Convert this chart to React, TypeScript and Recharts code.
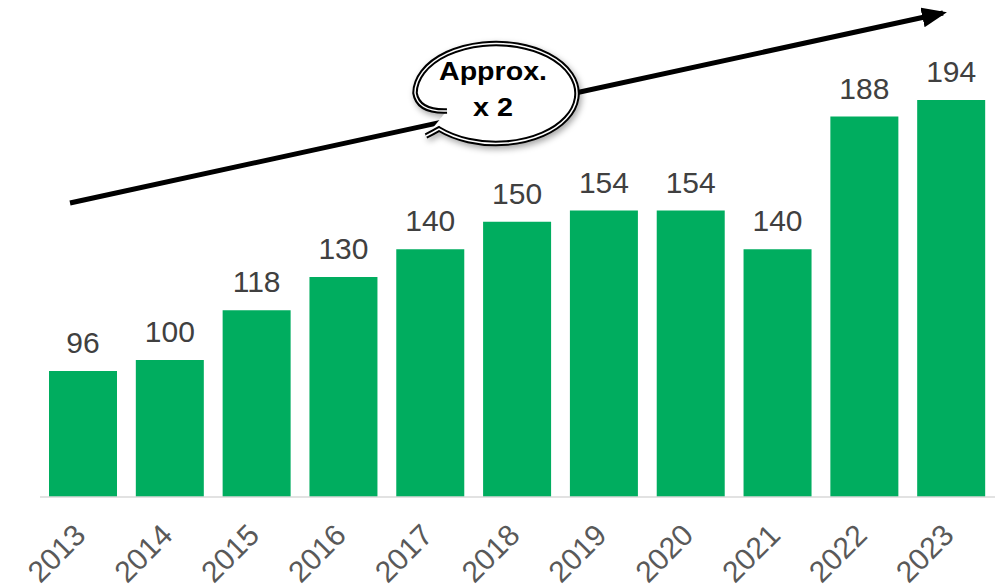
import React from 'react';
import { BarChart, Bar, XAxis, YAxis, LabelList } from 'recharts';

const years = ['2013', '2014', '2015', '2016', '2017', '2018', '2019', '2020', '2021', '2022', '2023'];
const values = [96, 100, 118, 130, 140, 150, 154, 154, 140, 188, 194];

const data = years.map((year, i) => ({ year, value: values[i] }));

const FONT = '"Liberation Sans", Arial, sans-serif';

function YearTick(props: any) {
  const { x, y, payload } = props;
  const tx = x + 4;
  const ty = y + 32;
  return (
    <text
      x={tx}
      y={ty}
      transform={`rotate(-45, ${tx}, ${ty})`}
      textAnchor="end"
      fill="#595959"
      fontSize={30}
      fontFamily={FONT}
    >
      {payload.value}
    </text>
  );
}

// arrow + "Approx. x 2" bubble drawn on top of the chart
function Annotation() {
  return (
    <svg
      width={997}
      height={585}
      style={{ position: 'absolute', left: 0, top: 0, pointerEvents: 'none' }}
    >
      <defs>
        <marker id="head" markerWidth="5" markerHeight="4" refX="4.2" refY="2" orient="auto" markerUnits="strokeWidth">
          <path d="M0,0 L5,2 L0,4 Z" fill="#000" />
        </marker>
        <filter id="shadow" x="-20%" y="-20%" width="140%" height="150%">
          <feDropShadow dx="2" dy="3" stdDeviation="3" floodColor="#000" floodOpacity="0.35" />
        </filter>
      </defs>
      <line x1={70} y1={203} x2={943} y2={13} stroke="#000" strokeWidth={5} markerEnd="url(#head)" />
      <path
        d="M 447 111 Q 418 112 415 93 A 81 50 0 1 1 439 129 Q 432 133 426 136"
        fill="#fff"
        stroke="#000"
        strokeWidth={5.5}
        filter="url(#shadow)"
      />
      <path
        d="M 447 111 Q 418 112 415 93 A 81 50 0 1 1 439 129 Q 432 133 426 136"
        fill="none"
        stroke="#fff"
        strokeWidth={1.5}
      />
      <text x={493} y={80} textAnchor="middle" fontSize={25} fontWeight="bold" fontFamily={FONT} textLength={108} lengthAdjust="spacingAndGlyphs" fill="#000">
        Approx.
      </text>
      <text x={493} y={116} textAnchor="middle" fontSize={25} fontWeight="bold" fontFamily={FONT} textLength={40} lengthAdjust="spacingAndGlyphs" fill="#000">
        x 2
      </text>
    </svg>
  );
}

export default function App() {
  return (
    <div style={{ position: 'absolute', left: 0, top: 0, width: 997, height: 585, background: '#fff' }}>
      <BarChart
        width={997}
        height={585}
        data={data}
        margin={{ top: 10, right: 2, left: 40, bottom: 0 }}
      >
        <XAxis
          dataKey="year"
          height={88}
          axisLine={{ stroke: '#d9d9d9', strokeWidth: 1.5 }}
          tickLine={false}
          interval={0}
          tick={<YearTick />}
        />
        <YAxis hide type="number" domain={[50.5, 226.5]} allowDataOverflow />
        <Bar dataKey="value" fill="#00ad5f" barSize={68} isAnimationActive={false}>
          <LabelList
            dataKey="value"
            position="top"
            offset={18}
            fill="#404040"
            fontSize={30}
            fontFamily={FONT}
          />
        </Bar>
      </BarChart>
      <Annotation />
    </div>
  );
}
